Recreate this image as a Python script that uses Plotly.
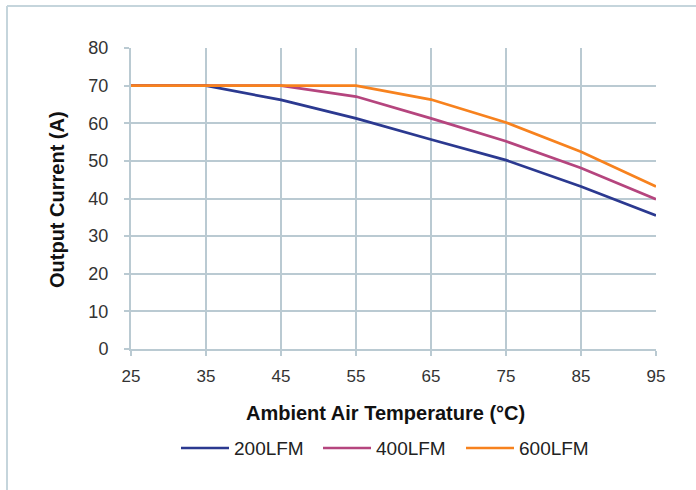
import plotly.graph_objects as go

temps = [25, 35, 45, 55, 65, 75, 85, 95]
lfm200 = [70, 70, 66.2, 61.3, 55.7, 50.2, 43.2, 35.5]
lfm400 = [70, 70, 70, 67.1, 61.3, 55.2, 48.1, 39.8]
lfm600 = [70, 70, 70, 70, 66.3, 60.2, 52.4, 43.2]
series_names = ["200LFM", "400LFM", "600LFM"]
colors = ["#2B3990", "#B5457E", "#F7821E"]

W, H = 696, 490
L, R, T, B = 131, 40, 48, 141
pw, ph = W - L - R, H - T - B


def px(x):
    return (x - L) / pw


def py(y):
    return (H - B - y) / ph


fig = go.Figure()
for name, ys, c in zip(series_names, [lfm200, lfm400, lfm600], colors):
    fig.add_trace(go.Scatter(x=temps, y=ys, name=name, mode="lines",
                             line=dict(color=c, width=2.7), showlegend=False))

grid = "#BACAD2"
font = "Liberation Sans, Arial, sans-serif"

annotations = [
    dict(text="<b>Ambient Air Temperature (°C)</b>", xref="paper", yref="paper",
         x=px(385), y=py(413), xanchor="center", yanchor="middle",
         showarrow=False, font=dict(size=20, color="#111111", family=font)),
    dict(text="<b>Output Current (A)</b>", xref="paper", yref="paper",
         x=px(57), y=py(200), xanchor="center", yanchor="middle",
         textangle=-90, showarrow=False, font=dict(size=20, color="#111111", family=font)),
]
shapes = [
    dict(type="line", xref="paper", yref="paper",
         x0=px(7), x1=px(W + 5), y0=py(6), y1=py(6),
         line=dict(color="#C5D5DC", width=2)),
    dict(type="line", xref="paper", yref="paper",
         x0=px(7), x1=px(7), y0=py(6), y1=py(H + 5),
         line=dict(color="#C5D5DC", width=2)),
]
leg_line_x = [181, 323, 466]
leg_y = 448
for name, c, lx in zip(series_names, colors, leg_line_x):
    shapes.append(dict(type="line", xref="paper", yref="paper",
                       x0=px(lx), x1=px(lx + 48), y0=py(leg_y), y1=py(leg_y),
                       line=dict(color=c, width=2.7)))
    annotations.append(dict(text=name, xref="paper", yref="paper",
                            x=px(lx + 51), y=py(leg_y), xanchor="left", yanchor="middle",
                            showarrow=False, font=dict(size=19, color="#222222", family=font)))

fig.update_layout(
    width=W, height=H,
    margin=dict(l=L, r=R, t=T, b=B, autoexpand=False),
    paper_bgcolor="white", plot_bgcolor="white",
    font=dict(family=font, size=17, color="#333333"),
    showlegend=False,
    xaxis=dict(range=[25, 95], tickvals=temps, ticks="outside", ticklen=5,
               tickcolor=grid, tickwidth=2, showgrid=True, gridcolor=grid, gridwidth=2,
               showline=True, linecolor=grid, linewidth=2, zeroline=False,
               ticklabelstandoff=6,
               tickfont=dict(size=17, color="#333333")),
    yaxis=dict(range=[0, 80], dtick=10, ticks="outside", ticklen=5,
               tickcolor=grid, tickwidth=2, showgrid=True, gridcolor=grid, gridwidth=2,
               showline=True, linecolor=grid, linewidth=2, zeroline=False,
               ticklabelstandoff=12,
               tickfont=dict(size=18, color="#333333")),
    annotations=annotations,
    shapes=shapes,
)
fig.write_html("out.html", config={"displayModeBar": False},
               post_script="document.body.style.margin='0';document.body.style.overflow='hidden';")
